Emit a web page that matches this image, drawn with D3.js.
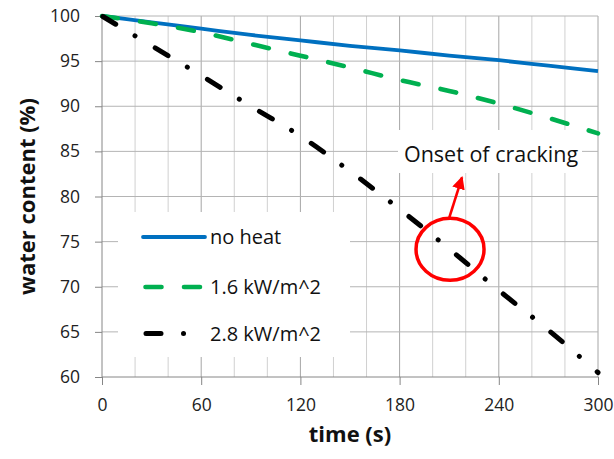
<!DOCTYPE html>
<html>
<head>
<meta charset="utf-8">
<script src="https://cdn.jsdelivr.net/npm/d3@7"></script>
<style>
  body { margin: 0; background: #fff; }
  svg { font-family: 'Open Sans', sans-serif; }
</style>
</head>
<body>
<div id="chart-area"></div>
<script>
// data (time in s, water content in %)
var times = [0, 30, 60, 90, 120, 150, 180, 210, 240, 270, 300]
var noHeat = [100, 99.3, 98.6, 97.9, 97.3, 96.7, 96.2, 95.6, 95.1, 94.5, 93.9]
var heat16 = [100, 99.2, 98.2, 96.9, 95.6, 94.3, 92.9, 91.7, 90.3, 88.7, 87.0]
var heat28 = [100, 96.7, 93.4, 90.0, 86.7, 82.8, 78.6, 74.2, 69.6, 65.2, 60.5]
var seriesNames = ['no heat', '1.6 kW/m^2', '2.8 kW/m^2']
var xTicks = [0, 60, 120, 180, 240, 300]
var xMinor = [20, 40, 80, 100, 140, 160, 200, 220, 260, 280]
var yTicks = [60, 65, 70, 75, 80, 85, 90, 95, 100]

// crack onset marker, in data units
var crack = {t: 210.5, v: 74.15}

var margin = {left: 102, right: 16, top: 16, bottom: 82}
var width = 614 - margin.left - margin.right
var height = 459 - margin.top - margin.bottom

var svg = d3.select('#chart-area')
  .append('svg')
  .attr('width', 614)
  .attr('height', 459)

var g = svg.append('g')
  .attr('transform', 'translate(' + margin.left + ', ' + margin.top + ')')

var x = d3.scaleLinear().domain([0, 300]).range([0, width])
var y = d3.scaleLinear().domain([60, 100]).range([height, 0])

// grid: minor verticals, major verticals, horizontals
g.append('g').selectAll('line')
  .data(xMinor)
  .enter().append('line')
  .attr('x1', function (d) { return x(d) }).attr('x2', function (d) { return x(d) })
  .attr('y1', 0).attr('y2', height)
  .attr('stroke', '#d0d0d0').attr('stroke-width', 1)

g.append('g').selectAll('line')
  .data(xTicks.slice(1))
  .enter().append('line')
  .attr('x1', function (d) { return x(d) }).attr('x2', function (d) { return x(d) })
  .attr('y1', 0).attr('y2', height)
  .attr('stroke', '#a6a6a6').attr('stroke-width', 1)

g.append('g').selectAll('line')
  .data(yTicks.slice(1))
  .enter().append('line')
  .attr('x1', 0).attr('x2', width)
  .attr('y1', function (d) { return y(d) }).attr('y2', function (d) { return y(d) })
  .attr('stroke', '#b4b4b4').attr('stroke-width', 1)

// axes
var xAxisCall = d3.axisBottom(x)
  .tickValues(xTicks)
  .tickSize(8)
  .tickPadding(14)
var xAxisGroup = g.append('g')
  .attr('transform', 'translate(0, ' + height + ')')
  .call(xAxisCall)

var yAxisCall = d3.axisLeft(y)
  .tickValues(yTicks)
  .tickSize(7)
  .tickPadding(15)
var yAxisGroup = g.append('g')
  .call(yAxisCall)

svg.selectAll('.domain').attr('stroke', '#868686')
svg.selectAll('.tick line').attr('stroke', '#868686')
svg.selectAll('.tick text')
  .attr('font-family', "'Open Sans', sans-serif")
  .attr('font-size', '17.5px')
  .attr('fill', '#222')
xAxisGroup.selectAll('.domain').attr('d', 'M0,0H' + width)
yAxisGroup.selectAll('.domain').attr('d', 'M0,' + height + 'V0')

// annotation text box (white background hides grid)
g.append('rect')
  .attr('x', 296).attr('y', 114)
  .attr('width', 184).attr('height', 43)
  .attr('fill', '#fff')
g.append('text')
  .attr('x', 389).attr('y', 146)
  .attr('text-anchor', 'middle')
  .attr('font-size', '21.5px')
  .attr('fill', '#111')
  .text('Onset of cracking')

// legend box
var legend = g.append('g')
legend.append('rect')
  .attr('x', 16).attr('y', 196)
  .attr('width', 232).attr('height', 145)
  .attr('fill', '#fff')

// series
var styles = [
  {color: '#0070C0', width: 3.8, dash: null, offset: 0},
  {color: '#00B050', width: 4.6, dash: '16,22.5', offset: 0},
  {color: '#000000', width: 5, dash: '15,22.5,0.01,23.5', offset: -1}
]
var allSeries = [noHeat, heat16, heat28]

var line = d3.line()
  .x(function (d, i) { return x(times[i]) })
  .y(function (d) { return y(d) })
  .curve(d3.curveMonotoneX)

g.selectAll('path.series')
  .data(allSeries)
  .enter().append('path')
  .attr('class', 'series')
  .attr('d', line)
  .attr('fill', 'none')
  .attr('stroke', function (d, i) { return styles[i].color })
  .attr('stroke-width', function (d, i) { return styles[i].width })
  .attr('stroke-dasharray', function (d, i) { return styles[i].dash })
  .attr('stroke-dashoffset', function (d, i) { return styles[i].offset })
  .attr('stroke-linecap', function (d, i) { return i === 0 ? 'butt' : 'round' })

// legend entries
var legendY = [221, 271, 317.5]
var legendOffset = [0, -2.5, -3]
seriesNames.forEach(function (name, i) {
  legend.append('line')
    .attr('x1', 41).attr('x2', 103)
    .attr('y1', legendY[i]).attr('y2', legendY[i])
    .attr('stroke', styles[i].color)
    .attr('stroke-width', styles[i].width)
    .attr('stroke-dasharray', styles[i].dash)
    .attr('stroke-dashoffset', legendOffset[i])
    .attr('stroke-linecap', 'round')
  legend.append('text')
    .attr('x', 108).attr('y', legendY[i] + 7)
    .attr('font-size', '20px')
    .attr('fill', '#111')
    .text(name)
})

// red circle + arrow at the onset of cracking
var defs = svg.append('defs')
defs.append('marker')
  .attr('id', 'arrow')
  .attr('viewBox', '0 0 10 10')
  .attr('refX', 9).attr('refY', 5)
  .attr('markerWidth', 5).attr('markerHeight', 5)
  .attr('markerUnits', 'strokeWidth')
  .attr('orient', 'auto')
  .append('path')
  .attr('d', 'M0,0L10,5L0,10Z')
  .attr('fill', '#FF0000')

var cx = x(crack.t)
var cy = y(crack.v)
g.append('ellipse')
  .attr('cx', cx).attr('cy', cy)
  .attr('rx', 34).attr('ry', 31)
  .attr('fill', 'none')
  .attr('stroke', '#FF0000')
  .attr('stroke-width', 3.5)
g.append('line')
  .attr('x1', cx - 1).attr('y1', cy - 31)
  .attr('x2', cx + 12).attr('y2', cy - 72)
  .attr('stroke', '#FF0000')
  .attr('stroke-width', 2.6)
  .attr('marker-end', 'url(#arrow)')

// axis titles
g.append('text')
  .attr('x', 248)
  .attr('y', height + 65)
  .attr('font-size', '22px')
  .attr('font-weight', 'bold')
  .attr('text-anchor', 'middle')
  .attr('fill', '#111')
  .text('time (s)')

g.append('text')
  .attr('x', -(height / 2) + 0)
  .attr('y', -67)
  .attr('font-size', '22px')
  .attr('font-weight', 'bold')
  .attr('text-anchor', 'middle')
  .attr('transform', 'rotate(-90)')
  .attr('fill', '#111')
  .text('water content (%)')
</script>
</body>
</html>
